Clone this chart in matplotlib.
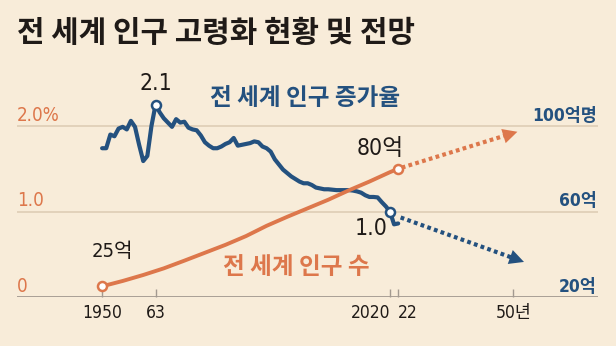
import matplotlib
matplotlib.use("Agg")
import matplotlib.pyplot as plt

# 세계 인구 증가율 (%)
rate_years = [1950, 1951, 1952, 1953, 1954, 1955, 1956, 1957, 1958, 1959,
              1960, 1961, 1962, 1963, 1964, 1965, 1966, 1967, 1968, 1969,
              1970, 1971, 1972, 1973, 1974, 1975, 1976, 1977, 1978, 1979,
              1980, 1981, 1982, 1983, 1984, 1985, 1986, 1987, 1988, 1989,
              1990, 1991, 1992, 1993, 1994, 1995, 1996, 1997, 1998, 1999,
              2000, 2001, 2002, 2003, 2004, 2005, 2006, 2007, 2008, 2009,
              2010, 2011, 2012, 2013, 2014, 2015, 2016, 2017, 2018, 2019,
              2020, 2021, 2022]
rate = [1.74, 1.74, 1.90, 1.88, 1.97, 1.99, 1.96, 2.06, 1.99, 1.78,
        1.59, 1.65, 2.00, 2.25, 2.16, 2.09, 2.04, 1.99, 2.08, 2.04,
        2.05, 1.98, 1.96, 1.95, 1.89, 1.81, 1.77, 1.74, 1.74, 1.76,
        1.79, 1.81, 1.86, 1.77, 1.78, 1.79, 1.80, 1.82, 1.81, 1.76,
        1.74, 1.70, 1.61, 1.55, 1.49, 1.45, 1.41, 1.38, 1.35, 1.33,
        1.33, 1.31, 1.28, 1.27, 1.26, 1.26, 1.255, 1.25, 1.25, 1.25,
        1.25, 1.245, 1.235, 1.22, 1.19, 1.17, 1.17, 1.165, 1.11, 1.06,
        1.00, 0.85, 0.86]
rate_proj_years = [2022.6, 2052.6]
rate_proj = [0.93, 0.41]

# 세계 인구 수 (억 명)
pop_years = [1950, 1955, 1960, 1965, 1970, 1975, 1980, 1985, 1990, 1995,
             2000, 2005, 2010, 2015, 2020, 2022]
pop = [25.0, 27.5, 30.3, 33.4, 37.0, 40.7, 44.4, 48.5, 53.3, 57.5,
       61.5, 65.5, 69.9, 74.0, 78.4, 80.0]
pop_proj_years = [2022, 2051]
pop_proj = [80.0, 97.3]

tick_years = [1950, 1963, 2020, 2022, 2050]
tick_labels = ["1950", "63", "2020", "22", "50년"]
rate_ticks = [0, 1.0, 2.0]
rate_tick_labels = ["0", "1.0", "2.0%"]
pop_ticks = [20, 60, 100]
pop_tick_labels = ["20억", "60억", "100억명"]

BG = "#f8ecd9"
BLUE = "#24517f"
ORANGE = "#dd774b"
GRID = "#dccbb2"
AXIS = "#a39a90"
INK = "#1f1a17"
KR = ["Noto Sans CJK KR"]

# 숫자는 좁은 글꼴, 한글은 Noto CJK
plt.rcParams["font.family"] = ["DejaVu Sans", "Noto Sans CJK KR"]
plt.rcParams["font.stretch"] = "condensed"

fig = plt.figure(figsize=(6.16, 3.46), dpi=100, facecolor=BG)
ax = fig.add_axes([17 / 616, 49 / 346, 581 / 616, 237 / 346])
ax.set_facecolor(BG)
ax.set_xlim(1929.3, 2070.6)
rate_top = 237 / 85.5
ax.set_ylim(0, rate_top)
ax2 = ax.twinx()
ax2.set_ylim(20, 20 + 40 * rate_top)

for a in (ax, ax2):
    for s in a.spines.values():
        s.set_visible(False)
    a.set_yticks([])

# 격자
for v in rate_ticks[1:]:
    ax.axhline(v, color=GRID, lw=1.1, zorder=1)
ax.axhline(0, color=AXIS, lw=1.3, zorder=1)

# x축 눈금
ax.set_xticks(tick_years)
ax.set_xticklabels(tick_labels, fontsize=12.5, color=INK)
ax.tick_params(axis="x", direction="in", length=6, width=1, color=AXIS, pad=5)
labs = ax.get_xticklabels()
labs[2].set_ha("right")
labs[2].set_x(2020.3)
labs[3].set_ha("left")

# 좌우 축 라벨
for v, t in zip(rate_ticks, rate_tick_labels):
    ax.annotate(t, xy=(0, v), xycoords=("axes fraction", "data"),
                xytext=(0, 1), textcoords="offset points",
                ha="left", va="bottom", fontsize=13.5, color=ORANGE)
for v, t in zip(pop_ticks, pop_tick_labels):
    ax2.annotate(t, xy=(1, v), xycoords=("axes fraction", "data"),
                 xytext=(-1, 1), textcoords="offset points",
                 ha="right", va="bottom", fontsize=12.5, color=BLUE,
                 fontweight="bold")

# 인구 증가율
ax.plot(rate_years, rate, color=BLUE, lw=3, solid_joinstyle="round",
        solid_capstyle="round", zorder=3)
f = 0.9
x0, x1 = rate_proj_years
y0, y1 = rate_proj
ax.plot([x0, x0 + f * (x1 - x0)], [y0, y0 + f * (y1 - y0)], color=BLUE,
        lw=3, ls=(0, (0.9, 0.8)), dash_capstyle="butt", zorder=3)
ax.annotate("", xy=(x1, y1), xytext=(x0 + 0.85 * (x1 - x0), y0 + 0.85 * (y1 - y0)),
            arrowprops=dict(arrowstyle="-|>,head_length=0.75,head_width=0.38",
                            color=BLUE, lw=0, shrinkA=0, shrinkB=0,
                            mutation_scale=14), zorder=3)
i_peak = rate.index(max(rate))
for i in (i_peak, rate_years.index(2020)):
    ax.plot(rate_years[i], rate[i], "o", ms=6.5, mfc="white", mec=BLUE,
            mew=1.8, zorder=5)

# 인구 수
ax2.plot(pop_years, pop, color=ORANGE, lw=2.8, solid_capstyle="round", zorder=3)
x0, x1 = pop_proj_years
y0, y1 = pop_proj
ax2.plot([x0 + 0.03 * (x1 - x0), x0 + f * (x1 - x0)],
         [y0 + 0.03 * (y1 - y0), y0 + f * (y1 - y0)], color=ORANGE,
         lw=3, ls=(0, (0.9, 0.8)), dash_capstyle="butt", zorder=3)
ax2.annotate("", xy=(x1, y1), xytext=(x0 + 0.85 * (x1 - x0), y0 + 0.85 * (y1 - y0)),
             arrowprops=dict(arrowstyle="-|>,head_length=0.75,head_width=0.38",
                             color=ORANGE, lw=0, shrinkA=0, shrinkB=0,
                             mutation_scale=14), zorder=3)
for i in (0, len(pop) - 1):
    ax2.plot(pop_years[i], pop[i], "o", ms=6.5, mfc="white", mec=ORANGE,
             mew=1.8, zorder=5)

# 값 표시
ax.text(rate_years[i_peak], 2.50, "2.1", ha="center", va="center",
        fontsize=16.5, color=INK)
ax.text(2015.4, 0.80, "1.0", ha="center", va="center", fontsize=16.5, color=INK)
ax2.text(2017.6, 89.7, "80억", ha="center", va="center", fontsize=16.5, color=INK)
ax2.text(1952.4, 41.3, "25억", ha="center", va="center", fontsize=14.5, color=INK)

# 계열 이름
ax.text(1976.2, 2.33, "전 세계 인구 증가율", ha="left", va="center",
        fontsize=17, fontweight="bold", color=BLUE, family=KR)
ax.text(1979.4, 0.35, "전 세계 인구 수", ha="left", va="center",
        fontsize=17, fontweight="bold", color=ORANGE, family=KR)

fig.text(17 / 616, 1 - 33 / 346, "전 세계 인구 고령화 현황 및 전망",
         ha="left", va="center", fontsize=21.5, fontweight="bold", color=INK,
         family=KR)

fig.savefig("out.png", dpi=100, facecolor=BG)
